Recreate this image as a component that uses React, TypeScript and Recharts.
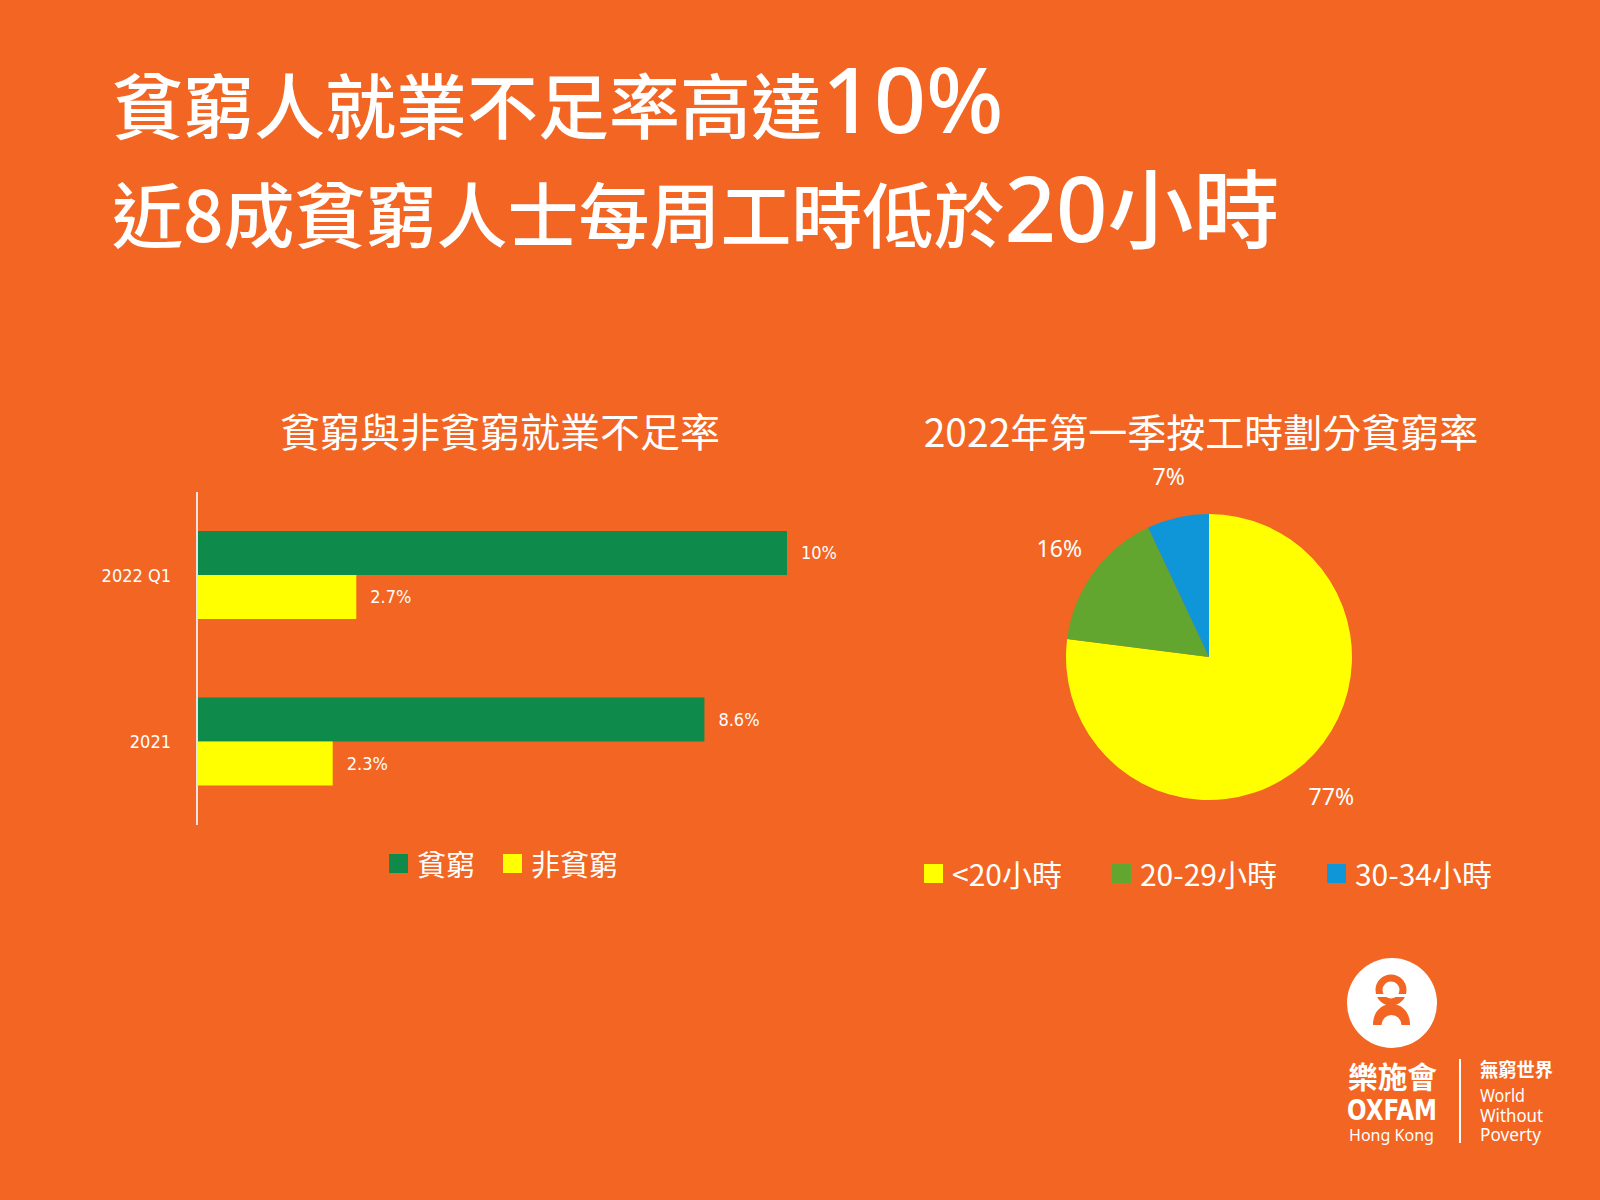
import React from "react";
import {
  BarChart,
  Bar,
  XAxis,
  YAxis,
  LabelList,
  Legend,
  PieChart,
  Pie,
  Cell,
} from "recharts";

const BG = "#F26522";
const CJK = '"Noto Sans CJK TC", "Noto Sans CJK SC", sans-serif';
const LATIN = '"Noto Sans", "Open Sans", sans-serif';
const NARROW = '"Liberation Sans Narrow", "DejaVu Sans Condensed", Roboto, sans-serif';
const RAD = Math.PI / 180;

// bar chart: under-employment rate, poor vs non-poor
const periods = ["2022 Q1", "2021"];
const poorRate = [10, 8.6];
const nonPoorRate = [2.7, 2.3];
const barNames = ["貧窮", "非貧窮"];
const barColors = ["#0E8A4A", "#FFFF00"];

// pie chart: poor workers by weekly hours, 2022 Q1
const hourGroups = ["<20小時", "20-29小時", "30-34小時"];
const hourShares = [77, 16, 7];
const pieColors = ["#FFFF00", "#62A630", "#0E96D8"];

const barData = periods.map((p, i) => ({
  period: p,
  poor: poorRate[i],
  nonPoor: nonPoorRate[i],
}));

const pieData = hourGroups.map((g, i) => ({ name: g, value: hourShares[i] }));

function SwatchLegend({
  names,
  colors,
  gap,
  fontSize,
}: {
  names: string[];
  colors: string[];
  gap: number;
  fontSize: number;
}) {
  return (
    <div
      style={{
        display: "flex",
        alignItems: "center",
        fontFamily: CJK,
        fontSize,
        color: "#fff",
        whiteSpace: "nowrap",
        height: 36,
      }}
    >
      {names.map((n, i) => (
        <div key={n} style={{ display: "flex", alignItems: "center", marginLeft: i ? gap : 0 }}>
          <span style={{ width: 19, height: 19, background: colors[i], display: "inline-block", marginRight: 9 }} />
          <span>{n}</span>
        </div>
      ))}
    </div>
  );
}

const renderPieLabel = (props: any) => {
  const { cx, cy, midAngle, outerRadius, value } = props;
  const r = outerRadius + 42;
  const x = cx + r * Math.cos(-midAngle * RAD);
  const y = cy + r * Math.sin(-midAngle * RAD);
  return (
    <text x={x} y={y} textAnchor="middle" dominantBaseline="central" fill="#fff" fontSize={23} fontFamily={LATIN}>
      {`${value}%`}
    </text>
  );
};

export default function App() {
  return (
    <div style={{ position: "absolute", left: 0, top: 0, width: 1600, height: 1200, background: BG, overflow: "hidden" }}>
      <svg width={1600} height={1200} style={{ position: "absolute", left: 0, top: 0 }}>
        <text x={112} y={133} fill="#fff" fontFamily={CJK} fontSize={71} fontWeight={500}>
          貧窮人就業不足率高達
          <tspan fontFamily={LATIN} fontSize={91}>10%</tspan>
        </text>
        <text x={112} y={242} fill="#fff" fontFamily={CJK} fontSize={71} fontWeight={500}>
          近8成貧窮人士每周工時低於
          <tspan fontFamily={LATIN} fontSize={90}>20</tspan>
          <tspan fontSize={86}>小時</tspan>
        </text>

        <text x={500} y={447} textAnchor="middle" fill="#fff" fontFamily={CJK} fontSize={40}>
          貧窮與非貧窮就業不足率
        </text>
        <text x={1201} y={447} textAnchor="middle" fill="#fff" fontFamily={CJK} fontSize={39}>
          2022年第一季按工時劃分貧窮率
        </text>

        {/* logo */}
        <circle cx={1392} cy={1003} r={45} fill="#fff" />
        <circle cx={1391} cy={990} r={12} fill="none" stroke={BG} strokeWidth={7} />
        <rect x={1374} y={994} width={34} height={3} fill="#fff" />
        <path
          d="M1373 1025 C1373 1012 1381 1004 1391.5 1004 C1402 1004 1410 1012 1410 1025 L1401.5 1025 A10 10 0 0 0 1381.5 1025 Z"
          fill={BG}
        />
        <text x={1348} y={1088} fill="#fff" fontFamily={CJK} fontSize={30} fontWeight={700} textLength={89} lengthAdjust="spacingAndGlyphs">
          樂施會
        </text>
        <text x={1347} y={1120} fill="#fff" fontFamily={NARROW} fontSize={29} fontWeight={700} textLength={90} lengthAdjust="spacingAndGlyphs">
          OXFAM
        </text>
        <text x={1349} y={1141} fill="#fff" fontFamily={LATIN} fontSize={17} textLength={85} lengthAdjust="spacingAndGlyphs">
          Hong Kong
        </text>
        <line x1={1460} y1={1059} x2={1460} y2={1143} stroke="#fff" strokeWidth={2} />
        <text x={1480} y={1077} fill="#fff" fontFamily={CJK} fontSize={19} fontWeight={700} textLength={73} lengthAdjust="spacingAndGlyphs">
          無窮世界
        </text>
        <text x={1480} y={1102} fill="#fff" fontFamily={LATIN} fontSize={18} textLength={45} lengthAdjust="spacingAndGlyphs">
          World
        </text>
        <text x={1480} y={1122} fill="#fff" fontFamily={LATIN} fontSize={18} textLength={63} lengthAdjust="spacingAndGlyphs">
          Without
        </text>
        <text x={1480} y={1141} fill="#fff" fontFamily={LATIN} fontSize={18} textLength={61} lengthAdjust="spacingAndGlyphs">
          Poverty
        </text>
      </svg>

      <div style={{ position: "absolute", left: 0, top: 472 }}>
        <BarChart
          width={880}
          height={420}
          data={barData}
          layout="vertical"
          margin={{ top: 20, right: 93, bottom: 67, left: 0 }}
          barCategoryGap={39}
          barGap={0}
        >
          <XAxis type="number" domain={[0, 10]} hide />
          <YAxis
            type="category"
            dataKey="period"
            width={197}
            axisLine={{ stroke: "#E4E4E4", strokeWidth: 2 }}
            tickLine={false}
            tickMargin={20}
            tick={{ fill: "#fff", fontSize: 18, fontFamily: NARROW }}
          />
          <Bar dataKey="poor" name={barNames[0]} fill={barColors[0]} isAnimationActive={false}>
            <LabelList
              dataKey="poor"
              position="right"
              offset={14}
              formatter={(v: any) => `${v}%`}
              fill="#fff"
              fontSize={18}
              fontFamily={NARROW}
            />
          </Bar>
          <Bar dataKey="nonPoor" name={barNames[1]} fill={barColors[1]} isAnimationActive={false}>
            <LabelList
              dataKey="nonPoor"
              position="right"
              offset={14}
              formatter={(v: any) => `${v}%`}
              fill="#fff"
              fontSize={18}
              fontFamily={NARROW}
            />
          </Bar>
          <Legend
            verticalAlign="middle"
            layout="horizontal"
            wrapperStyle={{ top: 373, left: 389, width: "auto" }}
            content={() => <SwatchLegend names={barNames} colors={barColors} gap={28} fontSize={29} />}
          />
        </BarChart>
      </div>

      <div style={{ position: "absolute", left: 900, top: 460 }}>
        <PieChart width={640} height={460}>
          <Pie
            data={pieData}
            dataKey="value"
            nameKey="name"
            cx={304}
            cy={192}
            outerRadius={143}
            startAngle={90}
            endAngle={-270}
            stroke="none"
            label={renderPieLabel}
            labelLine={false}
            isAnimationActive={false}
          >
            {pieData.map((d, i) => (
              <Cell key={d.name} fill={pieColors[i]} />
            ))}
          </Pie>
          <Legend
            verticalAlign="middle"
            layout="horizontal"
            wrapperStyle={{ top: 395, left: 24, width: "auto" }}
            content={() => <SwatchLegend names={hourGroups} colors={pieColors} gap={50} fontSize={30} />}
          />
        </PieChart>
      </div>
    </div>
  );
}
